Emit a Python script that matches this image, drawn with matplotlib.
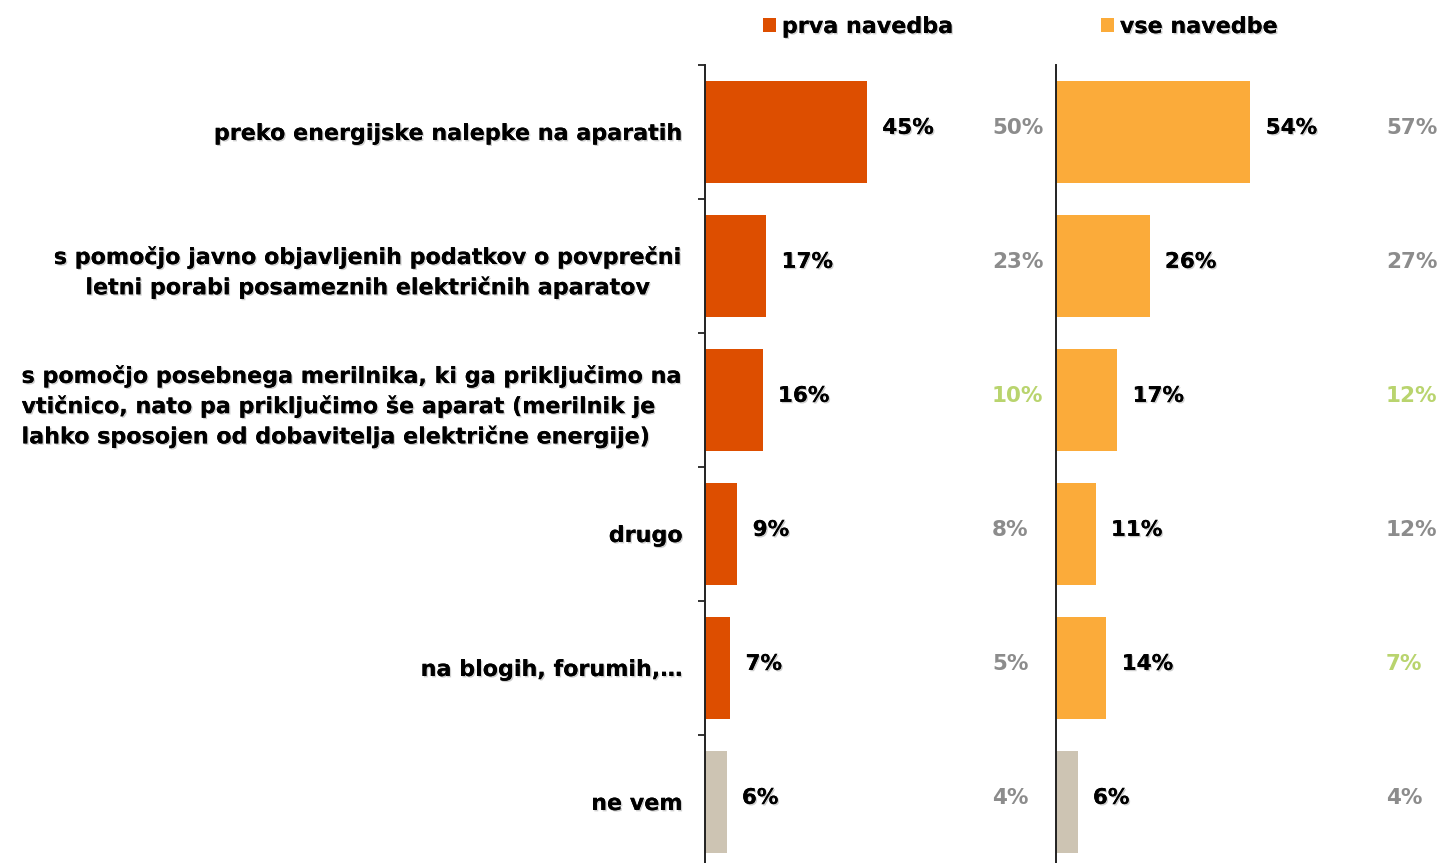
import matplotlib.pyplot as plt
import matplotlib.patheffects as pe
from matplotlib.transforms import blended_transform_factory

plt.rcParams['font.family'] = ['DejaVu Sans']

categories = [
    "preko energijske nalepke na aparatih",
    "s pomočjo javno objavljenih podatkov o povprečni\nletni porabi posameznih električnih aparatov",
    "s pomočjo posebnega merilnika, ki ga priključimo na\nvtičnico, nato pa priključimo še aparat (merilnik je\nlahko sposojen od dobavitelja električne energije)",
    "drugo",
    "na blogih, forumih,…",
    "ne vem",
]
prva = [45, 17, 16, 9, 7, 6]
vse = [54, 26, 17, 11, 14, 6]
# values from the previous wave, shown next to each panel
prva_prej = [50, 23, 10, 8, 5, 4]
vse_prej = [57, 27, 12, 12, 7, 4]
prva_izstopa = [False, False, True, False, False, False]
vse_izstopa = [False, False, True, False, True, False]

ORANGE = '#dd4e00'
LIGHT = '#fbab3a'
BEIGE = '#cdc4b3'
GREY = '#8c8c8c'
GREEN = '#b9d46e'

W, H = 1443, 863
PX_PER_PCT = 3.6
FS = 16
FS_VAL = 15.5

shadow = [pe.withSimplePatchShadow(offset=(1, -1), shadow_rgbFace='#777777', alpha=0.35), pe.Normal()]

fig = plt.figure(figsize=(W / 100, H / 100), dpi=100)

top_px, bottom_px = 65, 869


def make_ax(x0, x1):
    ax = fig.add_axes([x0 / W, 1 - bottom_px / H, (x1 - x0) / W, (bottom_px - top_px) / H])
    ax.set_xlim(0, (x1 - x0) / PX_PER_PCT)
    ax.set_ylim(len(categories) - 0.5, -0.5)
    for s in ['top', 'right', 'bottom']:
        ax.spines[s].set_visible(False)
    ax.spines['left'].set_linewidth(1.4)
    ax.spines['left'].set_color('#222222')
    ax.set_xticks([])
    ax.patch.set_alpha(0)
    return ax


ax1 = make_ax(705, 1045)
ax2 = make_ax(1056, 1443)

n = len(categories)
colors1 = [ORANGE] * (n - 1) + [BEIGE]
colors2 = [LIGHT] * (n - 1) + [BEIGE]

b1 = ax1.barh(range(n), prva, height=0.76, color=colors1)
b2 = ax2.barh(range(n), vse, height=0.76, color=colors2)

# category labels on the left axis, tick marks between rows
ax1.set_yticks(range(n))
ax1.set_yticklabels(categories, fontsize=FS, fontweight='bold', linespacing=1.5)
ax1.tick_params(axis='y', which='major', length=0, pad=16)
line_align = ['right', 'center', 'left', 'right', 'right', 'right']
for lbl, al in zip(ax1.get_yticklabels(), line_align):
    lbl.set_horizontalalignment('right')
    lbl.set_multialignment(al)
    lbl.set_path_effects(shadow)
ax1.set_yticks([i - 0.5 for i in range(n + 1)], minor=True)
ax1.tick_params(axis='y', which='minor', length=5, width=1.4, color='#333333')
ax2.set_yticks([])

for ax, vals in [(ax1, prva), (ax2, vse)]:
    for i, v in enumerate(vals):
        t = ax.annotate(f"{v}%", (v, i), xytext=(11, 3), textcoords='offset points',
                        ha='left', va='center', fontsize=FS_VAL, fontweight='bold', color='black')
        t.set_path_effects(shadow)

for ax, xpx, vals, flags in [(ax1, 992, prva_prej, prva_izstopa), (ax2, 1386, vse_prej, vse_izstopa)]:
    tr = blended_transform_factory(fig.transFigure, ax.transData)
    for i, (v, f) in enumerate(zip(vals, flags)):
        ax.text(xpx / W, i - 0.03, f"{v}%", transform=tr, ha='left', va='center',
                fontsize=FS_VAL, fontweight='bold', color=GREEN if f else GREY)

for ax, bars, label, xpx in [(ax1, b1, 'prva navedba', 763), (ax2, b2, 'vse navedbe', 1101)]:
    leg = ax.legend([bars], [label], loc='center left',
                    bbox_to_anchor=(xpx / W, 1 - 27 / H), bbox_transform=fig.transFigure,
                    frameon=False, borderpad=0, borderaxespad=0, handlelength=0.6,
                    handleheight=0.6, handletextpad=0.25,
                    prop={'size': FS, 'weight': 'bold'})
    for t in leg.get_texts():
        t.set_path_effects(shadow)

fig.savefig('out.png', dpi=100)
